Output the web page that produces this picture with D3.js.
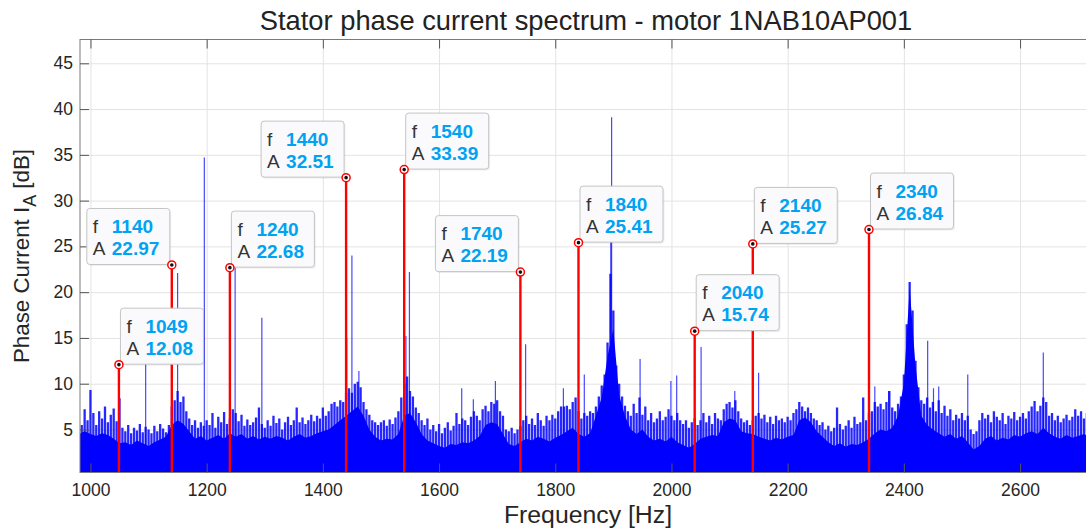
<!DOCTYPE html>
<html>
<head>
<meta charset="utf-8">
<script src="https://cdn.jsdelivr.net/npm/d3@7"></script>
<style>
  body { margin: 0; background: #fff; }
  svg { display: block; font-family: "Liberation Sans", Arial, Helvetica, sans-serif; }
</style>
</head>
<body>
<svg id="chart" width="1086" height="529"></svg>
<script>
// spectrum body (solid part), one value every 10 Hz from 980 Hz
var floorStart = 980
var floorStep = 10
var floorDb = [
  4.5, 4.8, 4.5, 4.3, 4.6, 4.4, 4.0,
  3.5, 3.6, 3.3, 3.8, 3.5, 3.2, 3.6, 3.9, 4.2,
  5.5, 6.0, 5.6, 4.8,
  4.0, 4.3, 3.8, 4.1, 4.4, 4.0,
  4.6, 4.2, 4.5, 4.0, 4.3, 3.9, 4.2,
  4.0, 4.3, 4.1, 3.8, 4.2, 4.5, 4.1, 4.3, 4.6, 4.8,
  5.0, 5.5, 6.0, 6.5,
  7.0, 7.5, 6.5, 5.0,
  4.2, 3.8, 4.0, 3.9, 4.5,
  6.5, 6.8, 5.8,
  4.5, 3.8, 3.5, 3.2, 3.0, 3.4, 3.3, 3.6, 3.5, 3.8, 4.3,
  5.5, 5.8, 5.6, 4.5,
  3.4, 3.2, 3.6,
  4.0, 3.8, 4.2, 4.0, 3.7, 4.1, 4.4, 4.8, 5.2, 4.5, 4.2, 4.6,
  6.5, 8.5, 13.0, 16.0, 8.7, 6.5, 5.0,
  4.5, 5.0, 4.2, 3.8, 4.0, 3.7, 4.2, 3.6, 3.3, 3.0,
  3.4, 4.0, 4.2, 4.4, 4.3,
  5.8, 6.2, 6.0, 4.8, 4.6,
  4.5, 4.2, 4.0, 3.8, 4.1, 3.9, 4.2, 4.4,
  6.0, 6.3, 5.8,
  4.8, 4.2, 3.6, 3.2, 3.5, 3.1, 3.4, 3.3, 3.6, 4.0,
  4.6, 5.0, 4.8, 5.2,
  6.5, 10.0, 20.5, 12.0, 6.5,
  5.5, 5.0, 4.6, 4.2, 4.5, 4.0, 4.3,
  3.6, 2.8, 3.2,
  4.0, 4.3, 3.8, 4.1, 3.9, 4.4, 4.2, 4.6, 4.8, 4.5, 5.2,
  4.6, 4.2, 4.0, 4.4, 4.1, 4.3, 4.5, 4.2
]

// noise tops, one value every 5 Hz from 980 Hz
var topStart = 980
var topStep = 5
var topDb = [
  6.5, 5.5, 7.2, 6.0,
  9.3, 6.8, 5.5, 7.0, 6.2, 7.5, 5.8, 6.6, 7.3, 5.9, 8.4, 5.2, 4.8, 5.5, 4.6, 5.2, 4.9, 5.6, 4.7, 5.3,
  5.0, 4.6, 5.4, 4.8, 5.6, 5.1, 4.7, 5.5, 7.5, 8.2, 9.2, 8.0, 8.6, 7.0, 6.2, 5.5, 6.0, 5.2, 5.8, 5.4,
  6.0, 5.5, 6.8, 5.2, 6.4, 5.8, 6.9, 5.6, 6.2, 7.2, 6.8, 5.9, 6.6, 5.4, 6.1, 5.5, 5.8, 6.3, 7.4, 5.6,
  5.2, 6.0, 5.4, 6.5, 5.7, 6.2, 5.0, 5.8, 6.4, 5.5, 6.0, 7.4, 5.8, 6.3, 5.6, 6.0, 6.6, 5.9, 6.5, 6.2,
  7.4, 6.5, 7.0, 7.8, 8.0, 7.5, 8.2, 8.0, 9.0, 9.5, 9.0, 10.0, 10.2, 9.6, 8.0, 7.2, 6.6, 6.0, 5.8, 5.5,
  5.8, 6.0, 5.4, 6.1, 5.6, 6.3, 7.0, 8.5, 10.0, 10.8, 9.2, 8.6, 7.4, 6.8, 6.0, 5.5, 6.2, 5.0, 5.5, 4.8,
  5.6, 4.6, 5.2, 5.8, 4.9, 5.4, 6.8, 5.6, 6.2, 6.0, 5.5, 6.4, 7.0, 6.5, 6.0, 7.2, 7.6, 7.0, 8.0, 7.8,
  8.2, 7.0, 6.5, 5.0, 4.8, 5.2, 4.6, 5.0, 5.4, 6.0, 6.5, 5.6, 6.2, 5.5, 6.8, 6.0, 5.4, 6.5, 6.0, 6.6,
  6.2, 7.0, 7.5, 7.5, 7.6, 7.2, 8.0, 8.5, 7.0, 6.2, 6.8, 6.5, 7.0, 6.8, 7.5, 8.6, 9.8, 11.0, 14.5, 22.0,
  18.0, 12.0, 10.0, 8.6, 7.6, 7.0, 6.5, 7.8, 6.8, 8.5, 6.6, 7.5, 6.0, 6.8, 5.8, 6.2, 7.0, 6.0, 6.4, 7.2,
  6.5, 6.0, 6.8, 6.0, 5.6, 6.0, 5.2, 5.8, 6.2, 5.5, 6.0, 6.8, 5.8, 6.5, 5.6, 6.8, 6.2, 6.0, 7.2, 7.8,
  8.0, 7.4, 8.2, 7.0, 6.2, 5.8, 6.0, 5.5, 6.0, 6.5, 6.8, 6.2, 6.6, 5.8, 6.4, 5.6, 6.5, 6.0, 6.2, 5.8,
  6.4, 6.0, 6.8, 7.2, 8.0, 7.5, 7.0, 7.4, 6.8, 6.2, 6.0, 5.5, 5.8, 5.0, 5.4, 4.8, 5.2, 7.4, 5.6, 5.0,
  5.4, 6.0, 5.2, 6.4, 5.6, 5.8, 8.5, 6.0, 6.8, 7.0, 8.0, 7.5, 7.8, 7.2, 8.0, 9.2, 7.4, 7.0, 7.8, 8.6,
  11.0, 16.5, 21.1, 18.0, 12.5, 9.6, 8.2, 7.8, 8.5, 7.4, 8.0, 7.0, 8.2, 6.8, 7.6, 6.5, 7.2, 6.0, 6.6, 6.2,
  6.8, 6.0, 6.5, 5.0, 4.5, 4.8, 6.0, 6.8, 6.2, 6.6, 5.8, 7.0, 6.4, 6.0, 6.8, 5.6, 6.5, 6.2, 6.9, 6.0,
  6.4, 6.8, 6.2, 7.0, 7.5, 8.1, 7.0, 7.6, 8.5, 8.0, 6.5, 6.8, 6.0, 6.5, 5.8, 6.2, 6.6, 6.0, 6.4, 7.2,
  6.5, 7.0, 6.2, 6.8
]

// isolated narrow lines
var spikeHz = [1095, 1150, 1196, 1249, 1295, 1441, 1450, 1462, 1543, 1549, 1639, 1659, 1697, 1749, 1814,
  1850, 1895.5, 1897, 1946, 1999, 2009, 2051, 2109, 2150, 2350, 2374, 2441, 2451, 2460, 2510, 2640]
var spikeDb = [12.3, 22.1, 34.7, 23.5, 17.2, 15.0, 24.0, 11.4, 15.2, 22.2, 9.5, 8.3, 10.3, 14.3, 9.5,
  11.0, 25.7, 39.1, 12.7, 10.3, 10.9, 14.0, 9.2, 11.2, 9.7, 9.2, 14.7, 9.5, 9.7, 11.0, 13.4]

// marked harmonics (data tips)
var peakHz = [1049, 1140, 1240, 1440, 1540, 1740, 1840, 2040, 2140, 2340]
var peakDb = [12.08, 22.97, 22.68, 32.51, 33.39, 22.19, 25.41, 15.74, 25.27, 26.84]
var tipOnLeft = [1140, 1440, 1740]

var xTicks = [1000, 1200, 1400, 1600, 1800, 2000, 2200, 2400, 2600]
var yTicks = [5, 10, 15, 20, 25, 30, 35, 40, 45]

var plotLeft = 80, plotRight = 1095, plotTop = 39.5, plotBottom = 472.5
var plotH = plotBottom - plotTop

var x = d3.scaleLinear().domain([982, 2729]).range([plotLeft, plotRight])
var y = d3.scaleLinear().domain([0.3, 47.6]).range([plotBottom, plotTop])

var svg = d3.select('#chart')

svg.append('defs').append('clipPath').attr('id', 'plot')
  .append('rect').attr('x', plotLeft).attr('y', plotTop).attr('width', plotRight - plotLeft).attr('height', plotH)

// grid
svg.append('g')
  .attr('transform', 'translate(0,' + plotBottom + ')')
  .call(d3.axisBottom(x).tickValues(xTicks).tickSizeInner(-plotH).tickSizeOuter(0).tickFormat(''))
  .call(function (g) {
    g.select('.domain').remove()
    g.selectAll('line').attr('stroke', '#e3e3e3')
  })
svg.append('g')
  .attr('transform', 'translate(' + plotLeft + ',0)')
  .call(d3.axisLeft(y).tickValues(yTicks).tickSizeInner(-(plotRight - plotLeft)).tickSizeOuter(0).tickFormat(''))
  .call(function (g) {
    g.select('.domain').remove()
    g.selectAll('line').attr('stroke', '#e3e3e3')
  })

var plot = svg.append('g').attr('clip-path', 'url(#plot)')

var floorData = floorDb.map(function (v, i) { return { f: floorStart + i * floorStep, v: v } })
var topData = topDb.map(function (v, i) { return { f: topStart + i * topStep, v: v } })

plot.append('path')
  .datum(floorData)
  .attr('fill', '#0000ff')
  .attr('d', d3.area().x(function (d) { return x(d.f) }).y0(y(0.3)).y1(function (d) { return y(d.v) }))

plot.append('g').selectAll('line')
  .data(topData)
  .join('line')
  .attr('x1', function (d) { return x(d.f) })
  .attr('x2', function (d) { return x(d.f) })
  .attr('y1', y(0.3))
  .attr('y2', function (d) { return y(d.v) })
  .attr('stroke', '#0000ff')
  .attr('stroke-opacity', 0.85)
  .attr('stroke-width', 2.3)

plot.append('g').selectAll('line')
  .data(spikeHz)
  .join('line')
  .attr('x1', function (d) { return x(d) })
  .attr('x2', function (d) { return x(d) })
  .attr('y1', y(0.3))
  .attr('y2', function (d, i) { return y(spikeDb[i]) })
  .attr('stroke', '#0000ff')
  .attr('stroke-opacity', 0.72)
  .attr('stroke-width', 1.2)

// red stems
plot.append('g').selectAll('line')
  .data(peakHz)
  .join('line')
  .attr('x1', function (d) { return x(d) })
  .attr('x2', function (d) { return x(d) })
  .attr('y1', y(0.3))
  .attr('y2', function (d, i) { return y(peakDb[i]) })
  .attr('stroke', '#ff0000')
  .attr('stroke-width', 2.4)

// axes box
svg.append('rect')
  .attr('x', plotLeft).attr('y', plotTop).attr('width', plotRight - plotLeft).attr('height', plotH)
  .attr('fill', 'none').attr('stroke', '#7a7a7a').attr('stroke-width', 1)

var xAxis = svg.append('g')
  .attr('transform', 'translate(0,' + plotBottom + ')')
  .call(d3.axisBottom(x).tickValues(xTicks).tickSizeInner(-9).tickSizeOuter(0).tickPadding(11.5).tickFormat(d3.format('d')))
xAxis.select('.domain').remove()
xAxis.selectAll('line').attr('stroke', '#555')
xAxis.selectAll('text').attr('fill', '#262626').style('font-size', '17.5px')

var xTop = svg.append('g')
  .attr('transform', 'translate(0,' + plotTop + ')')
  .call(d3.axisTop(x).tickValues(xTicks).tickSizeInner(-9).tickSizeOuter(0).tickFormat(''))
xTop.select('.domain').remove()
xTop.selectAll('line').attr('stroke', '#555')

var yAxis = svg.append('g')
  .attr('transform', 'translate(' + plotLeft + ',0)')
  .call(d3.axisLeft(y).tickValues(yTicks).tickSizeInner(-9).tickSizeOuter(0).tickPadding(7))
yAxis.select('.domain').remove()
yAxis.selectAll('line').attr('stroke', '#555')
yAxis.selectAll('text').attr('fill', '#262626').style('font-size', '17.5px')

// data tips
var tipW = 83, tipH = 56
var tips = svg.append('g')
peakHz.forEach(function (f, i) {
  var px = x(f), py = y(peakDb[i])
  var bx = tipOnLeft.indexOf(f) >= 0 ? px - tipW - 2 : px + 1.5
  var by = py - tipH - 0.5
  var g = tips.append('g').attr('transform', 'translate(' + bx + ',' + by + ')')
  g.append('rect').attr('x', 1.5).attr('y', 1.5).attr('width', tipW).attr('height', tipH).attr('rx', 3)
    .attr('fill', '#000').attr('fill-opacity', 0.06)
  g.append('rect').attr('width', tipW).attr('height', tipH).attr('rx', 3)
    .attr('fill', '#fafafc').attr('stroke', '#c4c4c4').attr('stroke-width', 1)
  var rows = [['f', String(f)], ['A', peakDb[i].toFixed(2)]]
  rows.forEach(function (r, k) {
    var t = g.append('text').attr('x', 6).attr('y', 24.5 + k * 22.3).style('font-size', '19px')
    t.append('tspan').attr('fill', '#333').text(r[0])
    t.append('tspan').attr('x', 25).attr('fill', '#00a2f2').attr('font-weight', 'bold').text(r[1])
  })
  svg.append('circle').attr('cx', px).attr('cy', py).attr('r', 4)
    .attr('fill', '#fff').attr('stroke', '#ff0000').attr('stroke-width', 1.5)
  svg.append('circle').attr('cx', px).attr('cy', py).attr('r', 1.8).attr('fill', '#111')
})

// titles
svg.append('text')
  .attr('x', 586).attr('y', 30).attr('text-anchor', 'middle')
  .attr('fill', '#222').style('font-size', '27.3px')
  .text('Stator phase current spectrum - motor 1NAB10AP001')

svg.append('text')
  .attr('x', 588).attr('y', 523).attr('text-anchor', 'middle')
  .attr('fill', '#262626').style('font-size', '24.8px')
  .text('Frequency [Hz]')

var yl = svg.append('text')
  .attr('transform', 'translate(29,256) rotate(-90)')
  .attr('text-anchor', 'middle')
  .attr('fill', '#262626').style('font-size', '22.3px')
yl.append('tspan').text('Phase Current I')
yl.append('tspan').attr('dy', 7).style('font-size', '18px').text('A')
yl.append('tspan').attr('dy', -7).text(' [dB]')
</script>
</body>
</html>
